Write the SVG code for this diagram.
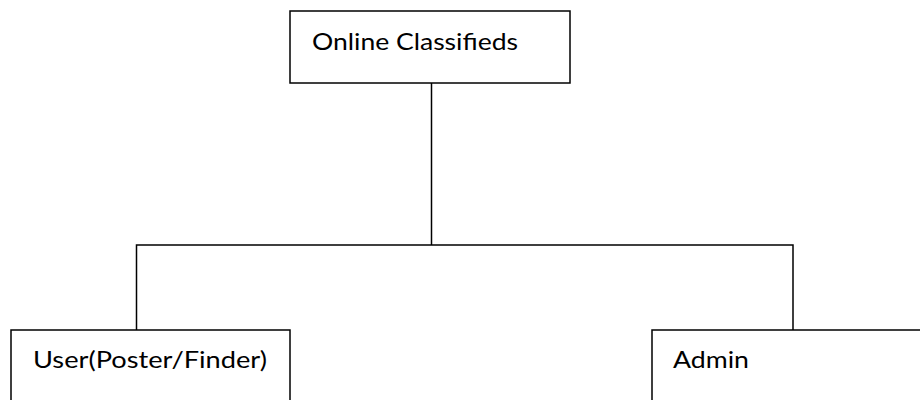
<svg xmlns="http://www.w3.org/2000/svg" width="920" height="400" viewBox="0 0 920 400">
  <style>
    .box { fill: #ffffff; stroke: #000000; stroke-width: 1.5; }
    .wire { fill: none; stroke: #000000; stroke-width: 1.5; }
    .label { font-family: Lato, "Open Sans", sans-serif; font-size: 24px; fill: #000000; }
  </style>
  <rect width="920" height="400" fill="#ffffff"/>

  <!-- tree connectors -->
  <g id="connectors">
    <path class="wire" d="M431.5 83 V245"/>
    <path class="wire" d="M136.5 330 V245 H793 V330"/>
  </g>

  <g id="online-classifieds">
    <rect class="box" x="290" y="11" width="280" height="72"/>
    <text class="label" x="312" y="50" textLength="206" lengthAdjust="spacingAndGlyphs">Online Classifieds</text>
  </g>

  <g id="user">
    <rect class="box" x="11" y="330" width="279" height="90"/>
    <text class="label" x="33" y="368" textLength="234" lengthAdjust="spacingAndGlyphs">User(Poster/Finder)</text>
  </g>

  <g id="admin">
    <rect class="box" x="652" y="330" width="290" height="90"/>
    <text class="label" x="673" y="368" textLength="76" lengthAdjust="spacingAndGlyphs">Admin</text>
  </g>
</svg>
